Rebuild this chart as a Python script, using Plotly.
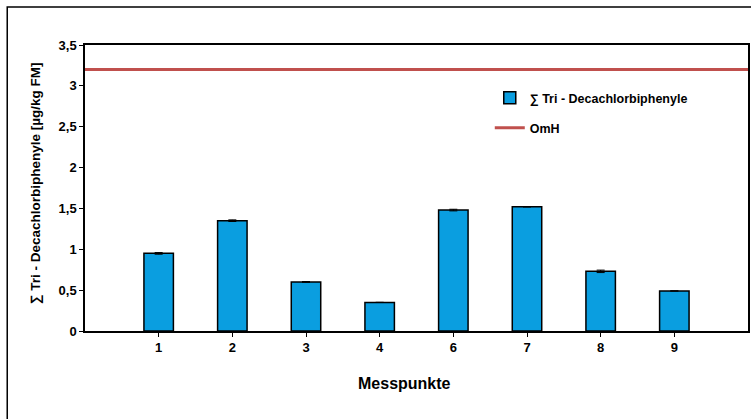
import plotly.graph_objects as go

categories = ["1", "2", "3", "4", "6", "7", "8", "9"]
values = [0.95, 1.35, 0.60, 0.35, 1.48, 1.52, 0.73, 0.49]
errors = [0.01, 0.01, 0.005, 0.0, 0.01, 0.0, 0.015, 0.0]
omh_value = 3.2
y_ticks = [0, 0.5, 1, 1.5, 2, 2.5, 3, 3.5]
y_ticktext = ["0", "0,5", "1", "1,5", "2", "2,5", "3", "3,5"]

positions = list(range(1, len(categories) + 1))
FONT = "Liberation Sans Narrow, Liberation Sans, Arial"

fig = go.Figure()
fig.add_trace(go.Bar(
    x=positions, y=values, width=0.4,
    marker=dict(color="#0A9EE0", line=dict(color="black", width=1.5)),
    error_y=dict(type="data", array=errors, color="black", thickness=1, width=4, visible=True),
    name="∑ Tri - Decachlorbiphenyle", legend="legend",
))
fig.add_trace(go.Scatter(
    x=[0, len(categories) + 1], y=[omh_value, omh_value], mode="lines",
    line=dict(color="#C0504D", width=3), name="OmH", legend="legend2",
))

W, H = 751, 419
ml, mr, mt, mb = 85, 1, 45, 88
pw, ph = W - ml - mr, H - mt - mb

def px(x):
    return (x - ml) / pw

def py(y):
    return 1 - (y - mt) / ph

fig.update_layout(
    width=W, height=H,
    margin=dict(l=ml, r=mr, t=mt, b=mb, pad=0),
    paper_bgcolor="white", plot_bgcolor="white",
    font=dict(family=FONT, size=12, color="black"),
    showlegend=True,
    legend=dict(x=px(491), y=py(83), xanchor="left", yanchor="top",
                font=dict(family="Liberation Sans, Arial", size=12.5, weight="bold"),
                bgcolor="rgba(0,0,0,0)"),
    legend2=dict(x=px(491), y=py(113), xanchor="left", yanchor="top",
                 font=dict(family="Liberation Sans, Arial", size=12.5, weight="bold"),
                 bgcolor="rgba(0,0,0,0)"),
    xaxis=dict(range=[0, 9], tickvals=positions, ticktext=categories,
               showline=True, linecolor="black", linewidth=1.5, mirror=True,
               ticks="outside", ticklen=4, tickcolor="black", showgrid=False, zeroline=False,
               tickfont=dict(family=FONT, size=13, weight="bold")),
    yaxis=dict(range=[0, 3.5], tickvals=y_ticks, ticktext=y_ticktext,
               showline=True, linecolor="black", linewidth=1.5, mirror=True,
               ticks="outside", ticklen=4, tickcolor="black", showgrid=False, zeroline=False,
               tickfont=dict(family=FONT, size=13, weight="bold")),
    shapes=[dict(type="rect", xref="paper", yref="paper",
                 x0=px(7), x1=px(W + 20), y0=py(H + 20), y1=py(7),
                 line=dict(color="black", width=1.5), fillcolor="rgba(0,0,0,0)", layer="below")],
    annotations=[
        dict(text="Messpunkte", xref="paper", yref="paper", x=px(405), y=py(383),
             xanchor="center", yanchor="middle", showarrow=False,
             font=dict(family="Liberation Sans, Arial", size=16, weight="bold")),
        dict(text="∑ Tri - Decachlorbiphenyle [µg/kg FM]", xref="paper", yref="paper",
             x=px(35), y=py(183), xanchor="center", yanchor="middle", textangle=-90,
             showarrow=False, font=dict(family="Liberation Sans, Arial", size=13.5, weight="bold")),
    ],
)

fig.write_html("out.html")
